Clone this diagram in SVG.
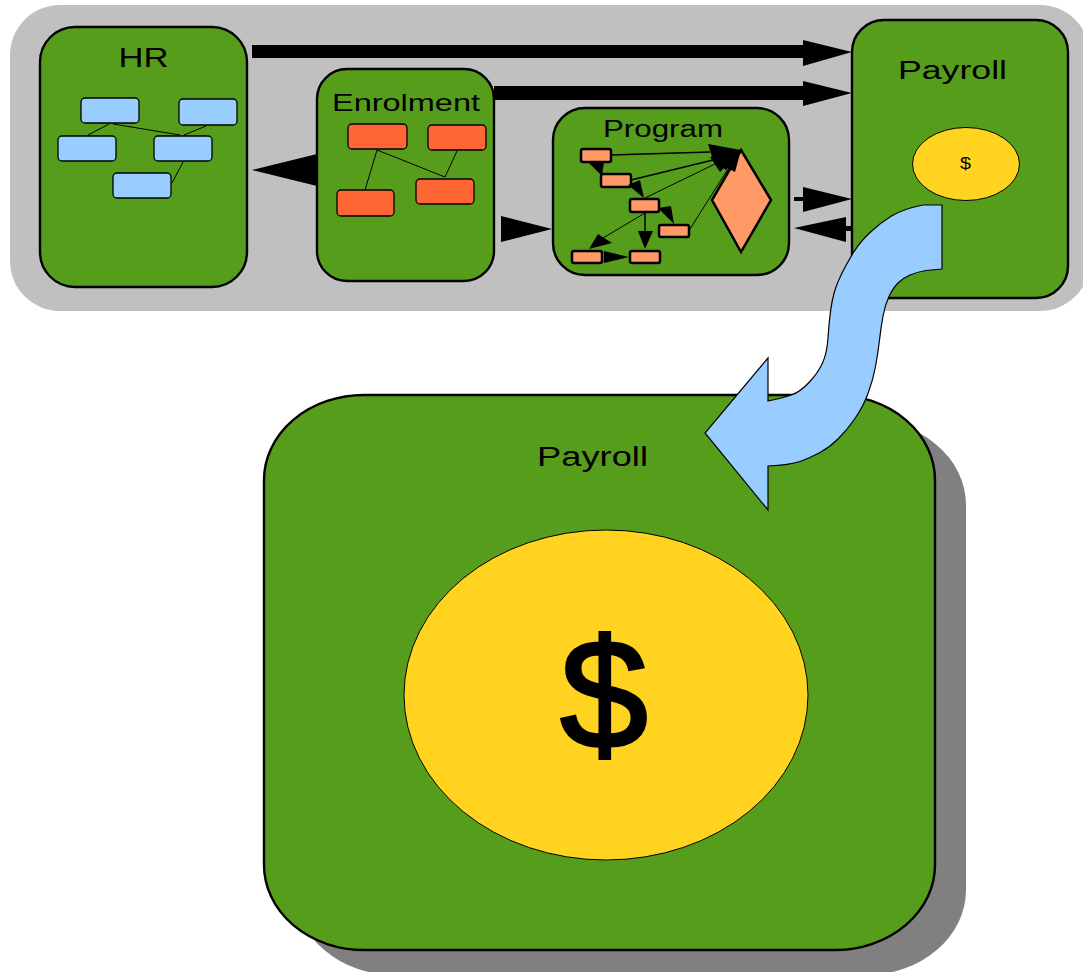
<svg xmlns="http://www.w3.org/2000/svg" width="1083" height="972" viewBox="0 0 1083 972">
<style>
.box{fill:#579d1c;stroke:#000;stroke-width:2.4}
.t{font-family:"Liberation Sans",Arial,sans-serif;fill:#000;text-anchor:middle}
.blue{fill:#99ccff;stroke:#000;stroke-width:1.3}
.red{fill:#ff6633;stroke:#000;stroke-width:1.3}
.or{fill:#ff9966;stroke:#000;stroke-width:2.5}
.l{stroke:#000;stroke-width:1;fill:none}
.y{fill:#ffd320;stroke:#000;stroke-width:1}
.h{fill:#000;stroke:none}
</style>
<rect width="1083" height="972" fill="#fff"/>
<g id="panel"><rect x="10" y="5" width="1080" height="306" rx="50" fill="#c0c0c0"/></g>
<g id="hr">
<rect class="box" x="40" y="27" width="207" height="260" rx="35"/>
<text class="t" x="143.500" y="67" font-size="27" textLength="50" lengthAdjust="spacingAndGlyphs">HR</text>
<rect class="blue" x="81" y="98" width="58" height="25" rx="4"/>
<rect class="blue" x="179" y="99" width="58" height="26" rx="4"/>
<rect class="blue" x="58" y="136" width="58" height="25" rx="4"/>
<rect class="blue" x="154" y="136" width="58" height="25" rx="4"/>
<rect class="blue" x="113" y="173" width="58" height="25" rx="4"/>
<path class="l" d="M109 124L88 135M113 124L180 135M206 126L184 135M183 162L172 183"/>
</g>
<g id="enrolment">
<rect class="box" x="317" y="69" width="177" height="212" rx="30"/>
<text class="t" x="406" y="111" font-size="24" textLength="148" lengthAdjust="spacingAndGlyphs">Enrolment</text>
<rect class="red" x="348" y="124" width="59" height="25" rx="4"/>
<rect class="red" x="428" y="125" width="58" height="25" rx="4"/>
<rect class="red" x="337" y="190" width="57" height="26" rx="4"/>
<rect class="red" x="416" y="179" width="58" height="25" rx="4"/>
<path class="l" d="M377 150L365 190M377 150L445 177M457 151L445 177"/>
</g>
<g id="program">
<rect class="box" x="553" y="108" width="236" height="167" rx="32"/>
<text class="t" x="663" y="137" font-size="23" textLength="120" lengthAdjust="spacingAndGlyphs">Program</text>
<path class="or" stroke-width="3" d="M741 150L771 200L741 252L712 200Z"/>
<rect class="or" x="581" y="149" width="30" height="13" rx="2"/>
<rect class="or" x="601" y="174" width="30" height="13" rx="2"/>
<rect class="or" x="630" y="199" width="29" height="13" rx="2"/>
<rect class="or" x="659" y="225" width="30" height="12" rx="2"/>
<rect class="or" x="572" y="251" width="30" height="12" rx="2"/>
<rect class="or" x="630" y="251" width="30" height="12" rx="2"/>
</g>
<g id="payroll-small">
<rect class="box" x="852" y="20" width="216" height="278" rx="32"/>
<text class="t" x="952.500" y="79" font-size="26" textLength="109" lengthAdjust="spacingAndGlyphs">Payroll</text>
<ellipse class="y" cx="966" cy="164" rx="53.500" ry="36.500"/>
<text class="t" x="965.500" y="169" font-size="16" textLength="11" lengthAdjust="spacingAndGlyphs">$</text>
</g>
<g id="payroll-large">
<rect x="295" y="420" width="671" height="555" rx="100" ry="85" fill="#808080"/>
<rect class="box" x="264" y="395" width="671" height="555" rx="100" ry="85"/>
<text class="t" x="592.500" y="466" font-size="27" textLength="111" lengthAdjust="spacingAndGlyphs">Payroll</text>
<ellipse class="y" cx="606" cy="695" rx="202" ry="165"/>
<text class="t" x="604" y="748" font-size="155" textLength="88" lengthAdjust="spacingAndGlyphs" stroke="#000" stroke-width="3">$</text>
</g>
<g id="connectors">
<path class="h" d="M252 45H803V40L852 52L803 66V58H252Z"/>
<path class="h" d="M494 86H803V81L852 93L803 106V100H494Z"/>
<path class="h" d="M252 170L317 154V186Z"/>
<path class="h" d="M501 216L552 229L501 242Z"/>
<path class="h" d="M794 197H803V187L852 199L803 212V201H794Z"/>
<path class="h" d="M794 228L846 217V226H852V231H846V242Z"/>
<g stroke="#000" fill="none">
<path d="M611 155L710 152" stroke-width="1.500"/>
<path d="M631 180L713 160" stroke-width="1.500"/>
<path d="M645 198L717 163" stroke-width="1"/>
<path d="M690 229L740 150" stroke-width="1"/>
<path d="M645 212V235" stroke-width="1.500"/>
<path d="M645 213L603 238" stroke-width="1"/>
</g>
<path class="h" d="M708 144L741 150L713 160Z"/>
<path class="h" d="M710 157L741 150L720 172Z"/>
<path class="h" d="M716 163L741 150L726 170Z"/>
<path class="h" d="M723 166L741 150L735 172Z"/>
<path class="h" d="M589 163L604 162L602 176Z"/>
<path class="h" d="M628 185L640 180L644 198Z"/>
<path class="h" d="M658 208L671 206L674 224Z"/>
<path class="h" d="M645 249L638 231H653Z"/>
<path class="h" d="M589 249L598 234L612 243Z"/>
<path class="h" d="M629 257L604 251V263Z"/>
</g>
<g id="curved-arrow">
<path d="M942 205H923Q903 209 891.500 216Q880 223 870 232.500Q860 242 853.500 252.500Q847 263 842 273Q837 283 834.500 291.500Q832 300 830.500 311.500Q829 323 828 338Q827 353 822.500 363Q818 373 809 382.500Q800 392 791.500 395Q783 398 768 401V358L705 433L768 510V466Q790 465 800 461.500Q810 458 820 452.500Q830 447 838.500 438.500Q847 430 855 418.500Q863 407 868 393.500Q873 380 875.500 366.500Q878 353 879.500 340Q881 327 883 316Q885 305 889 296.500Q893 288 898 283Q903 278 910 275Q917 272 926 270.500L942 269Z" fill="#99ccff" stroke="#000" stroke-width="1.200"/>
</g>
</svg>
